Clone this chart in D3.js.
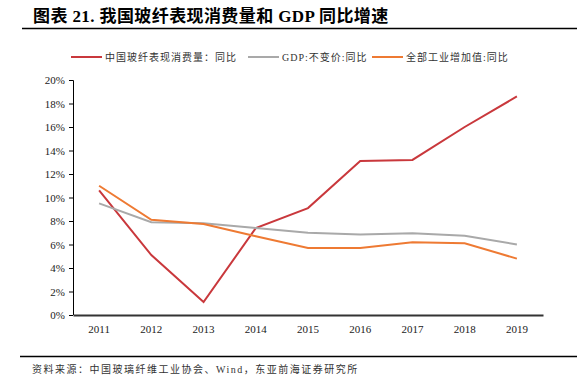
<!DOCTYPE html>
<html>
<head>
<meta charset="utf-8">
<script src="https://d3js.org/d3.v7.min.js"></script>
<style>
  body { margin: 0; background: #fff; }
  text { font-family: "Liberation Serif", "Noto Sans CJK SC", serif; }
</style>
</head>
<body>
<script>
const w = 577, h = 386;

const years = ['2011', '2012', '2013', '2014', '2015', '2016', '2017', '2018', '2019'];
const glassFiber = [10.6, 5.1, 1.1, 7.4, 9.1, 13.1, 13.2, 16.0, 18.6];
const gdp = [9.5, 7.9, 7.8, 7.4, 7.0, 6.85, 6.95, 6.75, 6.0];
const industry = [11.0, 8.1, 7.75, 6.7, 5.7, 5.7, 6.2, 6.1, 4.8];
const yTicks = [0, 2, 4, 6, 8, 10, 12, 14, 16, 18, 20];

const series = [
  {name: '中国玻纤表现消费量：同比', values: glassFiber, color: '#c9383c'},
  {name: 'GDP:不变价:同比', values: gdp, color: '#a9a9a9'},
  {name: '全部工业增加值:同比', values: industry, color: '#ee7a33'}
];

const svg = d3.select('body').append('svg').attr('width', w).attr('height', h);

// title
svg.append('text')
  .attr('x', 33).attr('y', 22)
  .attr('font-size', '17px').attr('font-weight', 'bold')
  .attr('letter-spacing', 0.4)
  .text('图表 21. 我国玻纤表现消费量和 GDP 同比增速');
svg.append('line')
  .attr('x1', 22).attr('x2', w).attr('y1', 28.5).attr('y2', 28.5)
  .attr('stroke', '#000').attr('stroke-width', 1.5);

const x = d3.scaleBand().domain(years).range([73, 543]);
const y = d3.scaleLinear().domain([0, 20]).range([315, 80]);

// y axis
const yAxis = svg.append('g')
  .attr('transform', 'translate(73,0)')
  .call(d3.axisLeft(y).tickValues(yTicks).tickSize(4).tickFormat(d => d + '%'));
yAxis.select('.domain').attr('stroke', '#000').attr('d', 'M-4,80.5H0.5V315');
yAxis.selectAll('.tick line').attr('stroke', '#000');
yAxis.selectAll('.tick text')
  .attr('font-family', '"Liberation Serif", serif')
  .attr('font-size', '11px').attr('fill', '#222').attr('x', -8);

// x axis
const xAxis = svg.append('g')
  .attr('transform', 'translate(0,315)')
  .call(d3.axisBottom(x).tickSize(0).tickPadding(10));
xAxis.select('.domain').attr('stroke', '#333').attr('stroke-width', 2);
xAxis.selectAll('.tick text')
  .attr('font-family', '"Liberation Serif", serif')
  .attr('font-size', '11px').attr('fill', '#222');

// lines
const line = d3.line()
  .x((d, i) => x(years[i]) + x.bandwidth() / 2)
  .y(d => y(d));

svg.selectAll('path.series')
  .data(series)
  .enter()
  .append('path')
  .attr('class', 'series')
  .attr('d', d => line(d.values))
  .attr('fill', 'none')
  .attr('stroke', d => d.color)
  .attr('stroke-width', 2);

// legend
const legendX = [71, 248, 372];
const legend = svg.selectAll('g.legend')
  .data(series)
  .enter()
  .append('g')
  .attr('class', 'legend')
  .attr('transform', (d, i) => 'translate(' + legendX[i] + ',57)');
legend.append('line')
  .attr('x1', 0).attr('x2', 31)
  .attr('stroke', d => d.color).attr('stroke-width', 2);
legend.append('text')
  .attr('x', 34).attr('y', 4)
  .attr('font-size', '10px').attr('fill', '#333')
  .attr('letter-spacing', 1)
  .text(d => d.name);

// footer
svg.append('line')
  .attr('x1', 20).attr('x2', w).attr('y1', 356.5).attr('y2', 356.5)
  .attr('stroke', '#000').attr('stroke-width', 1.5);
svg.append('text')
  .attr('x', 32).attr('y', 373)
  .attr('font-size', '10px').attr('fill', '#333')
  .attr('letter-spacing', 1.5)
  .text('资料来源：中国玻璃纤维工业协会、Wind，东亚前海证券研究所');
</script>
</body>
</html>
